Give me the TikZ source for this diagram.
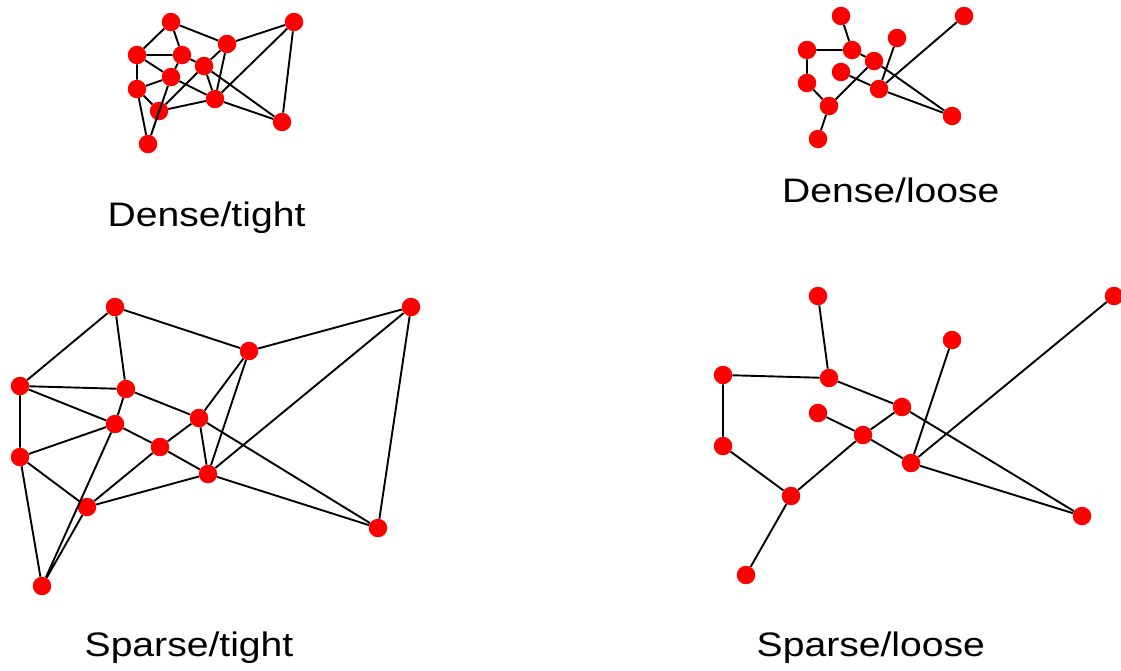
\documentclass[tikz,border=0pt]{standalone}
\usepackage{fontspec}
\setmainfont{Liberation Sans}
\begin{document}
\begin{tikzpicture}[x=1pt,y=-1pt,
  vtx/.style={circle,fill=red,inner sep=0pt,minimum size=18.5pt},
  edge/.style={line width=1.9pt,black},
  caption/.style={anchor=base,inner sep=0pt,font=\fontsize{34}{40}\selectfont}]
\useasboundingbox (0,0) rectangle (1121,670);

% ---------- Dense/tight ----------
\node[vtx] (ta) at (171,22) {};
\node[vtx] (tb) at (294,22) {};
\node[vtx] (tc) at (227,44) {};
\node[vtx] (td) at (137,55) {};
\node[vtx] (te) at (182,55) {};
\node[vtx] (tf) at (204,66) {};
\node[vtx] (tg) at (171,77) {};
\node[vtx] (th) at (137,89) {};
\node[vtx] (ti) at (215,99) {};
\node[vtx] (tj) at (159,111) {};
\node[vtx] (tk) at (282,122) {};
\node[vtx] (tl) at (148,144) {};
\draw[edge] (ta) -- (td) (ta) -- (te) (ta) -- (tc) (tb) -- (tc) (tb) -- (tk)
  (tb) -- (ti) (td) -- (te) (td) -- (th) (td) -- (tg) (tg) -- (ti)
  (te) -- (tf) (te) -- (tg) (tg) -- (th) (th) -- (tj) (th) -- (tl)
  (tf) -- (tc) (tf) -- (ti) (tf) -- (tk) (ti) -- (tc) (ti) -- (tk)
  (ti) -- (tj) (tj) -- (tf) (tg) -- (tl) (tj) -- (tl);

% ---------- Dense/loose ----------
\node[vtx] (la) at (841,16) {};
\node[vtx] (lb) at (964,16) {};
\node[vtx] (lc) at (897,38) {};
\node[vtx] (ld) at (807,50) {};
\node[vtx] (le) at (852,50) {};
\node[vtx] (lf) at (874,61) {};
\node[vtx] (lg) at (841,72) {};
\node[vtx] (lh) at (807,83) {};
\node[vtx] (li) at (879,89) {};
\node[vtx] (lj) at (829,106) {};
\node[vtx] (lk) at (952,116) {};
\node[vtx] (ll) at (818,139) {};
\draw[edge] (la) -- (le) (ld) -- (le) (ld) -- (lh) (lh) -- (lj) (lj) -- (ll)
  (lj) -- (lf) (le) -- (lf) (lf) -- (lk) (lg) -- (li) (li) -- (lc)
  (li) -- (lb) (li) -- (lk);

% ---------- Sparse/tight ----------
\node[vtx] (A) at (115,307) {};
\node[vtx] (B) at (411,307) {};
\node[vtx] (C) at (249,351) {};
\node[vtx] (D) at (20,386) {};
\node[vtx] (E) at (126,389) {};
\node[vtx] (F) at (199,418) {};
\node[vtx] (G) at (115,424) {};
\node[vtx] (H) at (160,447) {};
\node[vtx] (I) at (20,457) {};
\node[vtx] (J) at (208,474) {};
\node[vtx] (K) at (87,507) {};
\node[vtx] (L) at (378,528) {};
\node[vtx] (M) at (42,586) {};
\draw[edge] (A) -- (D) (A) -- (E) (A) -- (C) (B) -- (C) (B) -- (J) (B) -- (L)
  (D) -- (E) (D) -- (G) (D) -- (I) (E) -- (F) (E) -- (G) (G) -- (I)
  (G) -- (H) (H) -- (J) (G) -- (M) (K) -- (M) (I) -- (K) (I) -- (M)
  (K) -- (H) (H) -- (F) (F) -- (C) (F) -- (J) (F) -- (L) (J) -- (C)
  (J) -- (K) (J) -- (L);

% ---------- Sparse/loose ----------
\node[vtx] (s1) at (818,296) {};
\node[vtx] (s2) at (1114,296) {};
\node[vtx] (s3) at (952,340) {};
\node[vtx] (s4) at (723,375) {};
\node[vtx] (s5) at (829,378) {};
\node[vtx] (s6) at (902,407) {};
\node[vtx] (s7) at (818,413) {};
\node[vtx] (s8) at (863,435) {};
\node[vtx] (s9) at (723,446) {};
\node[vtx] (s10) at (911,463) {};
\node[vtx] (s11) at (791,496) {};
\node[vtx] (s12) at (1082,516) {};
\node[vtx] (s13) at (746,575) {};
\draw[edge] (s1) -- (s5) (s4) -- (s5) (s4) -- (s9) (s5) -- (s6) (s6) -- (s8)
  (s6) -- (s12) (s7) -- (s8) (s8) -- (s10) (s8) -- (s11) (s9) -- (s11)
  (s11) -- (s13) (s3) -- (s10) (s2) -- (s10) (s10) -- (s12);

% ---------- captions ----------
\node[caption] (cap1) at (206.5,226.7) {\scalebox{1.15}[1]{Dense/tight}};
\node[caption] (cap2) at (890.8,202.7) {\scalebox{1.15}[1]{Dense/loose}};
\node[caption] (cap3) at (189,656.7) {\scalebox{1.15}[1]{Sparse/tight}};
\node[caption] (cap4) at (870.8,656.7) {\scalebox{1.15}[1]{Sparse/loose}};
\end{tikzpicture}
\end{document}
